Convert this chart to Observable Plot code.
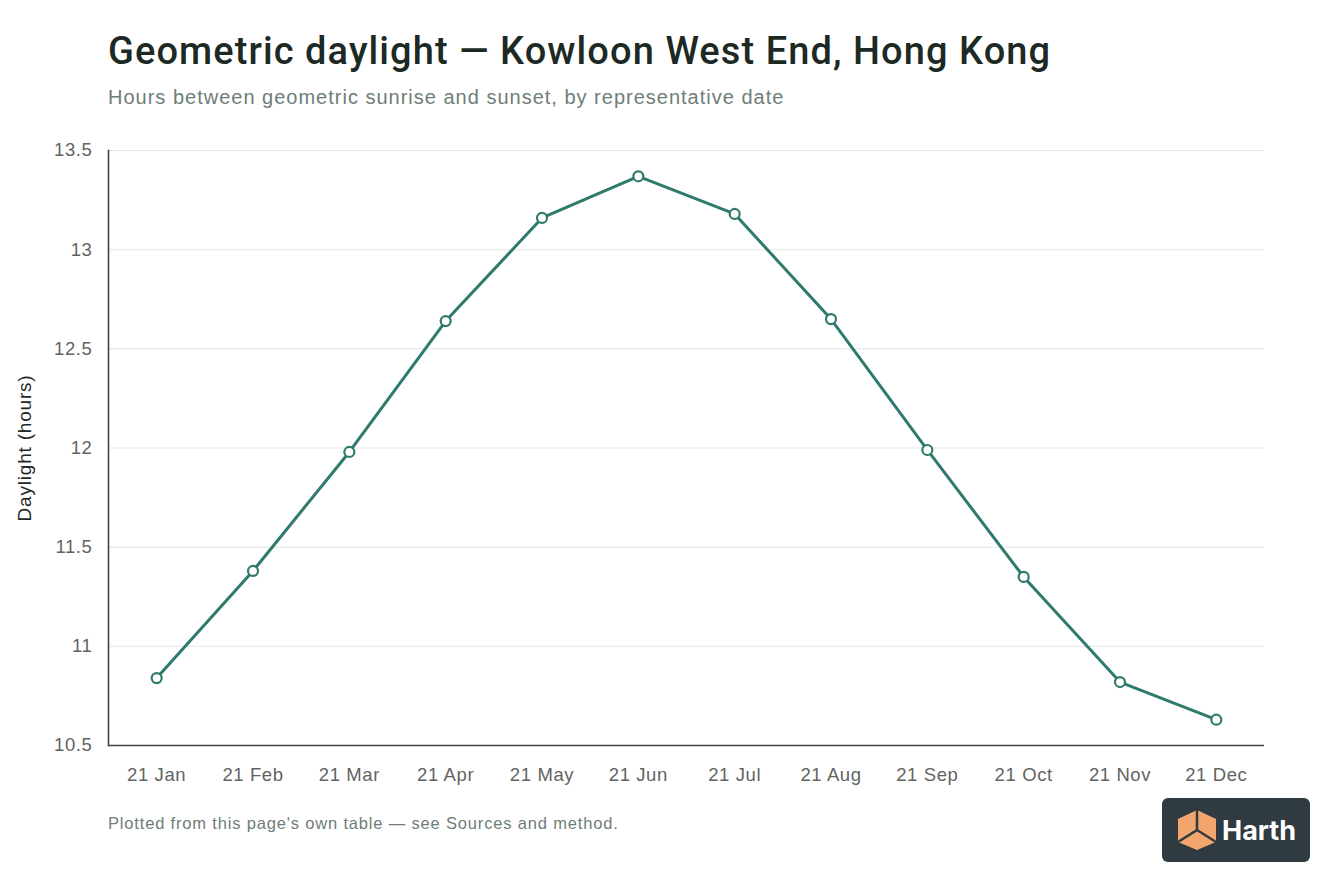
<!DOCTYPE html>
<html>
<head>
<meta charset="utf-8">
<script src="https://cdn.jsdelivr.net/npm/d3@7"></script>
<script src="https://cdn.jsdelivr.net/npm/@observablehq/plot@0.6"></script>
<style>
  html, body { margin: 0; padding: 0; background: #fff; }
  body { width: 1344px; height: 896px; position: relative; overflow: hidden; font-family: "Liberation Sans", Arial, sans-serif; }
  #title { position: absolute; left: 108px; top: 29px; font-family: Roboto, "Liberation Sans", sans-serif; font-size: 38px; font-weight: 500; color: #1d2924; letter-spacing: 1.08px; white-space: nowrap; }
  #subtitle { position: absolute; left: 108px; top: 86px; font-size: 20px; letter-spacing: 1px; color: #6e7d78; white-space: nowrap; }
  #chart { position: absolute; left: 0; top: 130px; }
  #caption { position: absolute; left: 108px; top: 814px; font-size: 16.5px; letter-spacing: 0.83px; color: #6e7d78; white-space: nowrap; }
  #logo { position: absolute; left: 1162px; top: 798px; width: 148px; height: 64px; background: #2f3a41; border-radius: 6px; }
  #chart svg text { letter-spacing: 0.6px; }
</style>
</head>
<body>
<div id="title">Geometric daylight — Kowloon West End, Hong Kong</div>
<div id="subtitle">Hours between geometric sunrise and sunset, by representative date</div>
<div id="chart"></div>
<div id="caption">Plotted from this page's own table — see Sources and method.</div>
<div id="logo">
  <svg width="148" height="64" viewBox="0 0 148 64">
    <polygon points="16,21 35,12 35,32 16,44" fill="#f2a66e"/>
    <polygon points="35,12 54,21 54,44 35,32" fill="#f2a66e"/>
    <polygon points="16,44 35,32 54,44 35,52" fill="#f2a66e"/>
    <polyline points="35,12 35,32 16,44" fill="none" stroke="#2f3a41" stroke-width="2.5"/>
    <polyline points="35,32 54,44" fill="none" stroke="#2f3a41" stroke-width="2.5"/>
    <text x="60" y="42" font-family="Inter, 'Noto Sans', sans-serif" font-weight="700" font-size="27" fill="#ffffff">Harth</text>
  </svg>
</div>
<script>
const dates = ["21 Jan","21 Feb","21 Mar","21 Apr","21 May","21 Jun","21 Jul","21 Aug","21 Sep","21 Oct","21 Nov","21 Dec"];
const hours = [10.84, 11.38, 11.98, 12.64, 13.16, 13.37, 13.18, 12.65, 11.99, 11.35, 10.82, 10.63];
const yTicks = [10.5, 11, 11.5, 12, 12.5, 13, 13.5];

const data = dates.map((d, i) => ({date: d, hours: hours[i]}));
const teal = "#2e7a6d";

const chart = Plot.plot({
  width: 1344,
  height: 670,
  marginLeft: 108,
  marginRight: 80,
  marginTop: 20,
  marginBottom: 55,
  style: {fontFamily: "'Liberation Sans', Arial, sans-serif", fontSize: "18.5px", color: "#5a5f5d", background: "transparent"},
  x: {type: "point", domain: dates, padding: 0.5, round: false, label: null},
  y: {domain: [10.5, 13.5], ticks: yTicks, label: "Daylight (hours)"},
  marks: [
    Plot.gridY(yTicks, {stroke: "#e3e6e4", strokeOpacity: 1, strokeWidth: 1}),
    Plot.axisY(yTicks, {tickSize: 0, tickPadding: 16, fontSize: 18.5, fill: "#5f6462", label: "Daylight (hours)", labelAnchor: "center", labelArrow: "none", labelOffset: 91, tickFormat: d => String(d)}),
    Plot.axisX({tickSize: 0, tickPadding: 22, fontSize: 18.5, fill: "#5f6462", label: null}),
    Plot.frame({anchor: "left", stroke: "#444", strokeWidth: 1.6}),
    Plot.ruleY([10.5], {stroke: "#444", strokeWidth: 1.6}),
    Plot.line(data, {x: "date", y: "hours", stroke: teal, strokeWidth: 3}),
    Plot.dot(data, {x: "date", y: "hours", r: 5, fill: "#fff", stroke: teal, strokeWidth: 2.2})
  ]
});
chart.querySelectorAll('[aria-label="y-axis label"] text').forEach(t => { t.setAttribute("fill", "#1d2924"); t.style.fontSize = "19px"; t.style.letterSpacing = "0.8px"; });
document.getElementById("chart").appendChild(chart);
</script>
</body>
</html>
